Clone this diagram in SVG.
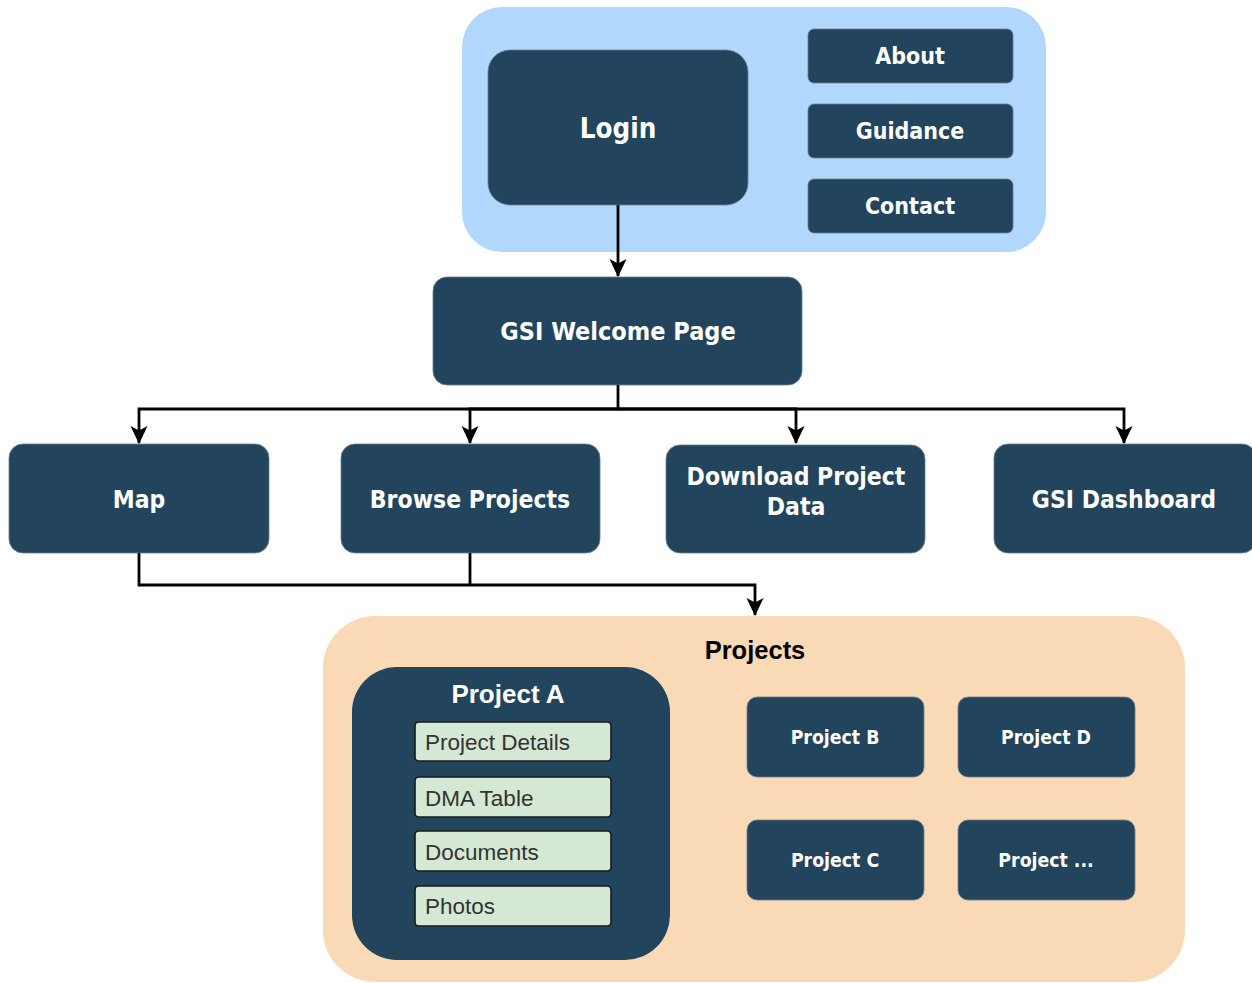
<svg xmlns="http://www.w3.org/2000/svg" width="1252" height="983" viewBox="0 0 1252 983">
<defs>
<marker id="arr" viewBox="0 0 18 18" refX="17" refY="9" markerWidth="18" markerHeight="18" markerUnits="userSpaceOnUse" orient="auto" overflow="visible">
<path d="M0,0.5 L18,9 L0,17.5 L4.5,9 Z" fill="#000"/>
</marker>
<style>
.dark{fill:#23445d;stroke:#6b7f90;stroke-width:0.8}
.t{font-family:'DejaVu Sans Condensed','DejaVu Sans',sans-serif;font-weight:bold;fill:#fff;text-anchor:middle;dominant-baseline:central}
.sub{fill:#d5e8d4;stroke:#1a1a1a;stroke-width:1.6}
.st{font-family:'Liberation Sans',Arial,sans-serif;font-size:22.5px;fill:#333;dominant-baseline:central}
.c{fill:none;stroke:#000;stroke-width:2.8}
</style>
</defs>
<rect width="1252" height="983" fill="#fff"/>
<g id="top-container">
<rect x="462" y="7" width="584" height="245" rx="40" fill="#b1d7fd"/>
</g>
<g id="login"><rect class="dark" x="488" y="50" width="260" height="155" rx="22"/><text class="t" x="618" y="128" font-size="27.5">Login</text></g>
<g id="about"><rect class="dark" x="808" y="29" width="205" height="54" rx="6"/><text class="t" x="910" y="56" font-size="23">About</text></g>
<g id="guidance"><rect class="dark" x="808" y="104" width="205" height="54" rx="6"/><text class="t" x="910" y="131" font-size="23">Guidance</text></g>
<g id="contact"><rect class="dark" x="808" y="179" width="205" height="54" rx="6"/><text class="t" x="910" y="206" font-size="23">Contact</text></g>
<g id="welcome"><rect class="dark" x="433" y="277" width="369" height="108" rx="14"/><text class="t" x="618" y="331" font-size="25">GSI Welcome Page</text></g>
<g id="map"><rect class="dark" x="9" y="444" width="260" height="109" rx="14"/><text class="t" x="139" y="499" font-size="24.5">Map</text></g>
<g id="browse"><rect class="dark" x="341" y="444" width="259" height="109" rx="14"/><text class="t" x="470" y="499" font-size="24.5">Browse Projects</text></g>
<g id="download"><rect class="dark" x="666" y="445" width="259" height="108" rx="14"/><text class="t" x="796" y="476" font-size="24.5">Download Project</text><text class="t" x="796" y="506" font-size="24.5">Data</text></g>
<g id="dashboard"><rect class="dark" x="994" y="444" width="262" height="109" rx="14"/><text class="t" x="1124" y="499" font-size="24.5">GSI Dashboard</text></g>
<g id="projects">
<rect x="323" y="616" width="862" height="366" rx="52" fill="#fad9b6"/>
<text x="755" y="650" font-family="'Liberation Sans',Arial,sans-serif" font-size="25.5" font-weight="bold" fill="#000" text-anchor="middle" dominant-baseline="central">Projects</text>
</g>
<g id="project-a">
<rect x="352" y="667" width="318" height="293" rx="45" fill="#23445d"/>
<text x="508" y="694" font-family="'Liberation Sans',Arial,sans-serif" font-size="26" font-weight="bold" fill="#fff" text-anchor="middle" dominant-baseline="central">Project A</text>
</g>
<g id="project-details"><rect class="sub" x="415" y="722" width="196" height="39" rx="4"/><text class="st" x="425" y="742">Project Details</text></g>
<g id="dma-table"><rect class="sub" x="415" y="777" width="196" height="40" rx="4"/><text class="st" x="425" y="798">DMA Table</text></g>
<g id="documents"><rect class="sub" x="415" y="831" width="196" height="40" rx="4"/><text class="st" x="425" y="852">Documents</text></g>
<g id="photos"><rect class="sub" x="415" y="886" width="196" height="40" rx="4"/><text class="st" x="425" y="906">Photos</text></g>
<g id="project-b"><rect class="dark" x="747" y="697" width="177" height="80" rx="10"/><text class="t" x="835" y="737" font-size="19.3">Project B</text></g>
<g id="project-d"><rect class="dark" x="958" y="697" width="177" height="80" rx="10"/><text class="t" x="1046" y="737" font-size="19.3">Project D</text></g>
<g id="project-c"><rect class="dark" x="747" y="820" width="177" height="80" rx="10"/><text class="t" x="835" y="860" font-size="19.3">Project C</text></g>
<g id="project-etc"><rect class="dark" x="958" y="820" width="177" height="80" rx="10"/><text class="t" x="1046" y="860" font-size="19.3">Project ...</text></g>
<g id="connectors">
<path class="c" d="M618,205 V276" marker-end="url(#arr)"/>
<path class="c" d="M618,385 V409 H139 V443" marker-end="url(#arr)"/>
<path class="c" d="M618,409 H470 V443" marker-end="url(#arr)"/>
<path class="c" d="M618,409 H796 V443" marker-end="url(#arr)"/>
<path class="c" d="M618,409 H1124 V443" marker-end="url(#arr)"/>
<path class="c" d="M139,553 V585 H755 V615" marker-end="url(#arr)"/>
<path class="c" d="M470,553 V585"/>
</g>
</svg>
